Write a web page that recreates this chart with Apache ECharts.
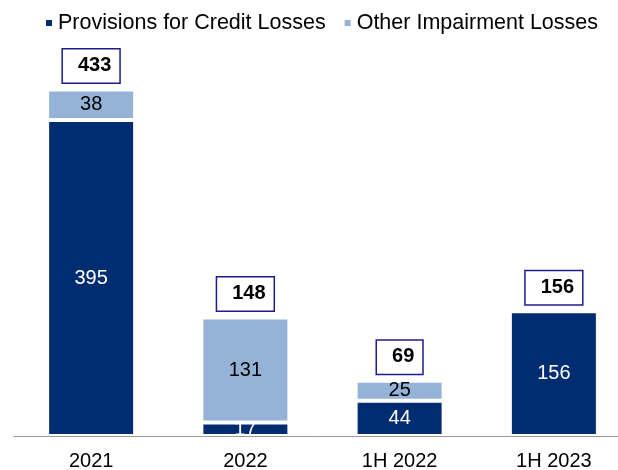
<!DOCTYPE html>
<html>
<head>
<meta charset="utf-8">
<script src="https://cdn.jsdelivr.net/npm/echarts@6/dist/echarts.min.js"></script>
<style>
  html, body { margin: 0; padding: 0; background: #fff; }
  #chart { width: 618px; height: 470px; }
</style>
</head>
<body>
<div id="chart"></div>
<script>
// Impairment losses by period (stacked)
const categories = ['2021', '2022', '1H 2022', '1H 2023'];
const provisions = [395, 17, 44, 156];
const otherImpairment = [38, 131, 25, 0];
const totals = [433, 148, 69, 156];

const FONT = '"Liberation Sans", Arial, sans-serif';
const DARK = '#002D72';
const LIGHT = '#95B3D7';

const chart = echarts.init(document.getElementById('chart'));

chart.setOption({
  animation: false,
  textStyle: { fontFamily: FONT },
  legend: {
    top: 7,
    left: 39,
    icon: 'rect',
    itemWidth: 8,
    itemHeight: 8,
    itemGap: 17,
    textStyle: { fontSize: 21.5, color: '#000', fontFamily: FONT },
    data: ['Provisions for Credit Losses', 'Other Impairment Losses']
  },
  grid: {
    left: 14,
    width: 617,
    top: 36,
    bottom: 34,
    containLabel: false,
    outerBoundsMode: 'none'
  },
  xAxis: {
    type: 'category',
    data: categories,
    axisLine: { lineStyle: { color: '#999', width: 1 } },
    axisTick: { length: 6, lineStyle: { color: '#999' } },
    axisLabel: { fontSize: 20, color: '#000', margin: 15, fontFamily: FONT }
  },
  yAxis: {
    type: 'value',
    min: 0,
    max: 500,
    show: false,
    splitLine: { show: false }
  },
  series: [
    {
      name: 'Provisions for Credit Losses',
      type: 'bar',
      stack: 'loss',
      barWidth: 88,
      barGap: '-100%',
      data: provisions,
      itemStyle: { color: DARK, borderColor: '#fff', borderWidth: 2 },
      label: {
        show: true,
        position: 'inside',
        color: '#fff',
        fontSize: 20,
        fontFamily: FONT
      }
    },
    {
      name: 'Other Impairment Losses',
      type: 'bar',
      stack: 'loss',
      barWidth: 88,
      barGap: '-100%',
      data: otherImpairment.map(v => (v === 0 ? '-' : v)),
      itemStyle: { color: LIGHT, borderColor: '#fff', borderWidth: 2 },
      label: {
        show: true,
        position: 'inside',
        color: '#000',
        fontSize: 20,
        fontFamily: FONT
      }
    },
    {
      name: 'Total',
      type: 'bar',
      barWidth: 88,
      barGap: '-100%',
      data: totals,
      silent: true,
      itemStyle: { color: 'rgba(0,0,0,0)' },
      label: {
        show: true,
        position: 'top',
        distance: 7,
        color: '#000',
        fontSize: 20,
        fontWeight: 'bold',
        fontFamily: FONT,
        backgroundColor: '#fff',
        borderColor: '#1C1C8C',
        borderWidth: 1.5,
        padding: [6, 8, 7, 15]
      }
    }
  ]
});
</script>
</body>
</html>
